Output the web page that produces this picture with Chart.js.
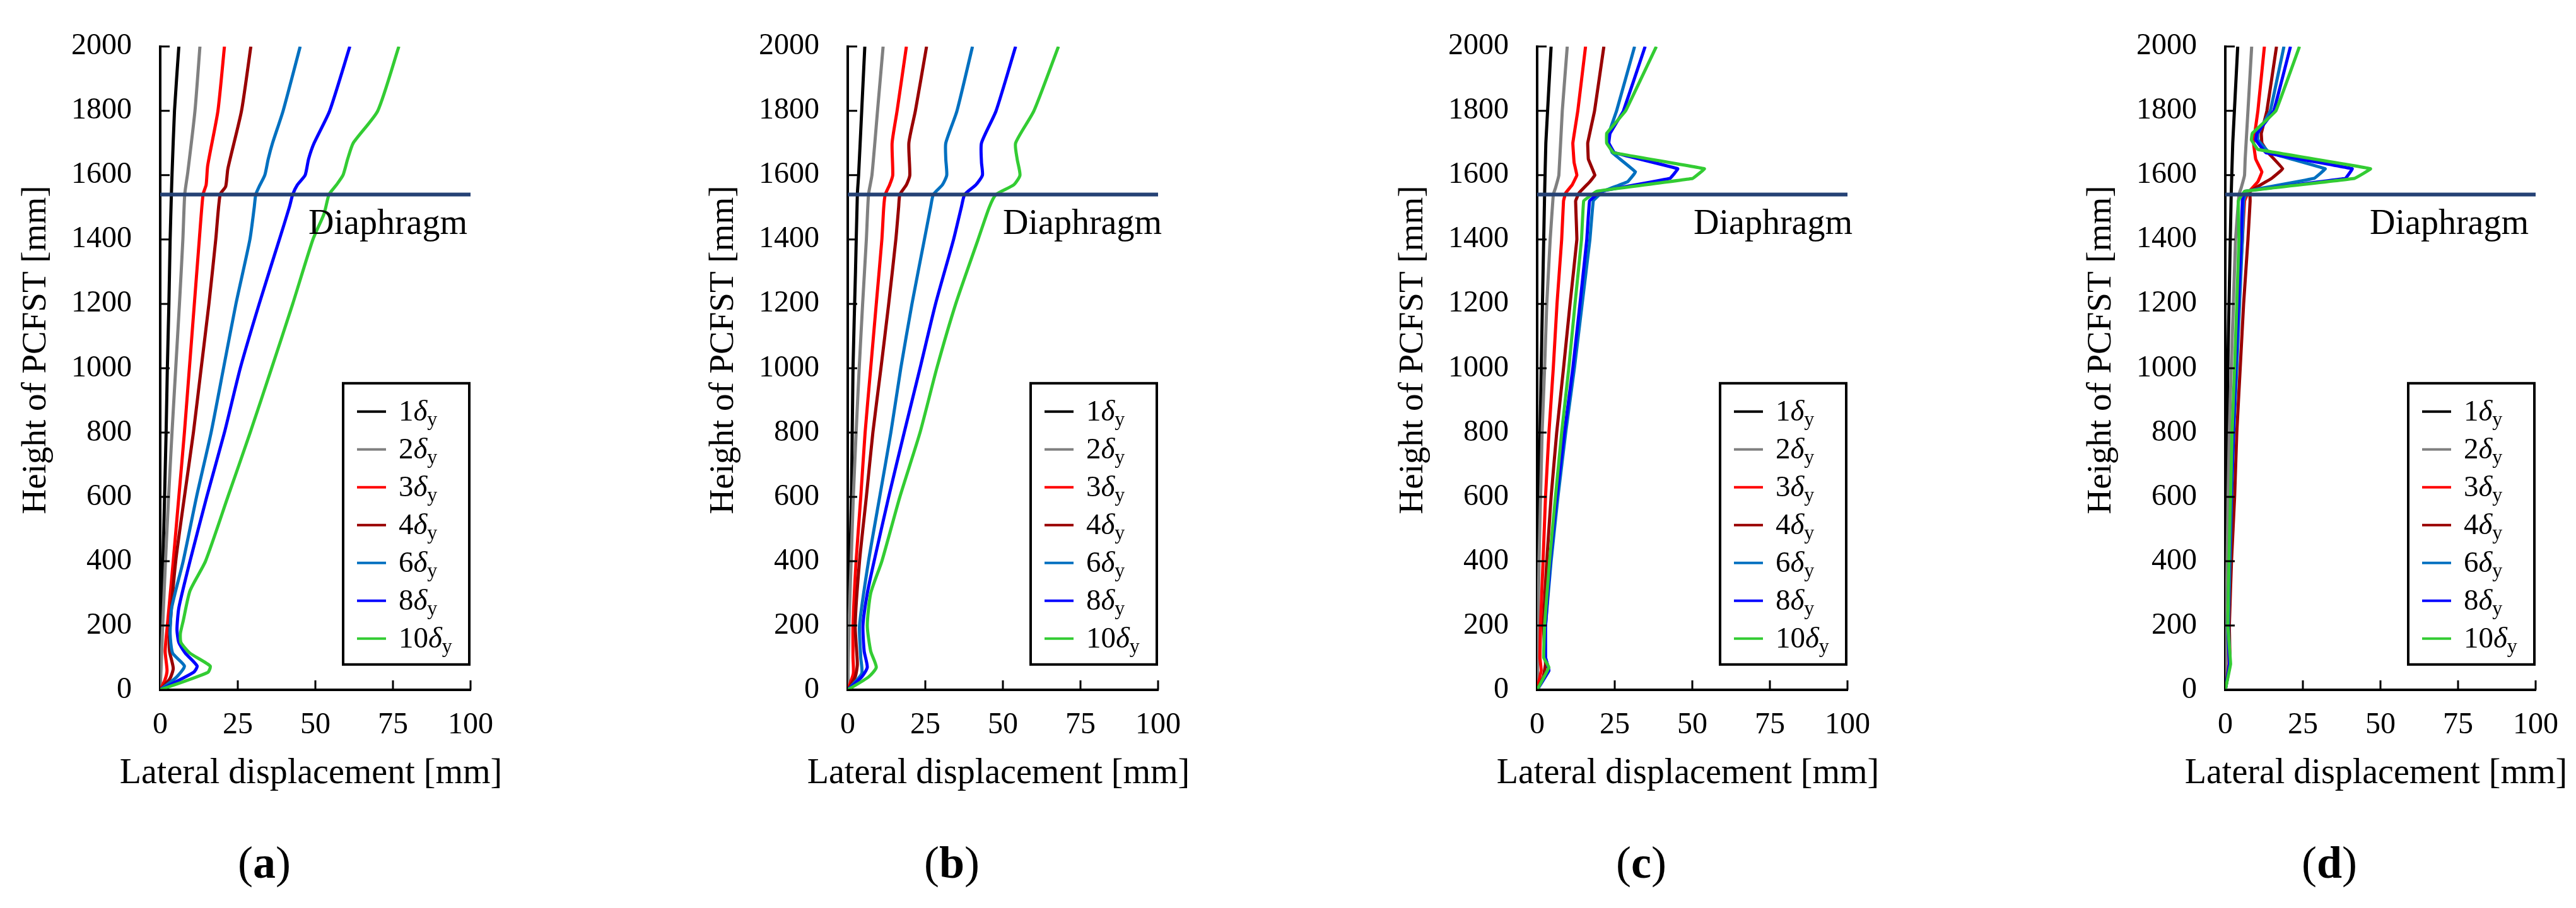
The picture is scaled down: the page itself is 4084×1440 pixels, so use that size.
<!DOCTYPE html>
<html>
<head>
<meta charset="utf-8">
<script src="https://cdn.jsdelivr.net/npm/chart.js@4"></script>
<style>
  body { margin: 0; background: #fff; width: 4084px; height: 1440px; overflow: hidden; position: relative; }
  .panel { position: absolute; top: 0; width: 810px; height: 1440px; }
</style>
</head>
<body>
<div class="panel" style="left:0px"><canvas id="chartA" width="810" height="1440"></canvas></div>
<div class="panel" style="left:1090px"><canvas id="chartB" width="810" height="1440"></canvas></div>
<div class="panel" style="left:2183px"><canvas id="chartC" width="810" height="1440"></canvas></div>
<div class="panel" style="left:3274px"><canvas id="chartD" width="810" height="1440"></canvas></div>
<script>
const seriesLabels = ['1', '2', '3', '4', '6', '8', '10'];
const seriesColors = ['#000000', '#808080', '#FF0000', '#990000', '#0070C0', '#0000FF', '#33CC33'];
const xTicks = [0, 25, 50, 75, 100];
const yTicks = [0, 200, 400, 600, 800, 1000, 1200, 1400, 1600, 1800, 2000];
const diaphragmHeight = 1540;
const panelLetters = ['a', 'b', 'c', 'd'];

// [lateral displacement mm, height mm]
const panelA = [
  [[0,0],[0.2,100],[0.4,200],[0.9,400],[1.4,600],[1.9,800],[2.3,1000],[2.8,1200],[3.2,1400],[3.6,1540],[3.8,1600],[4.6,1800],[6.0,2000]],
  [[0,0],[0.4,100],[0.8,200],[1.7,400],[2.7,600],[3.8,800],[5.0,1000],[6.2,1200],[7.3,1400],[7.9,1540],[8.9,1610],[11.2,1800],[12.8,2000]],
  [[0,0],[1.5,30],[2.2,60],[1.6,120],[2.3,200],[4.2,400],[6.0,600],[7.8,800],[9.4,1000],[11.0,1200],[12.6,1400],[13.8,1540],[14.8,1570],[15.3,1630],[18.6,1800],[20.7,2000]],
  [[0,0],[3.1,34],[4.2,67],[3.0,120],[3.0,174],[5.0,400],[7.8,600],[10.7,800],[13.2,1000],[15.7,1200],[17.9,1400],[19.3,1540],[21.1,1565],[21.8,1620],[26.2,1800],[29.2,2000]],
  [[0,0],[5.3,40],[7.8,74],[4.0,114],[3.2,174],[3.7,255],[7.4,400],[11.7,600],[16.4,800],[20.4,1000],[24.4,1200],[28.9,1400],[30.3,1500],[30.8,1540],[31.9,1565],[33.7,1600],[34.8,1650],[36.2,1700],[39.6,1800],[45.1,2000]],
  [[0,0],[10.7,54],[11.9,74],[8.1,114],[6.0,147],[5.4,188],[6.0,255],[9.6,400],[15.0,600],[20.7,800],[25.8,1000],[31.9,1200],[38.4,1400],[41.6,1500],[42.7,1540],[44.2,1570],[46.7,1600],[47.8,1650],[49.6,1700],[54.6,1800],[61.1,2000]],
  [[0,0],[15.3,54],[16.1,74],[9.6,114],[6.7,147],[6.5,175],[7.4,214],[9.6,308],[14.6,400],[21.8,600],[29.0,800],[35.9,1000],[42.7,1200],[49.2,1400],[52.8,1480],[54.4,1540],[56.8,1570],[58.9,1600],[60.4,1650],[62.2,1700],[70.1,1800],[76.9,2000]]
];

const panelB = [
  [[0,0],[0.2,200],[0.7,400],[1.2,600],[1.7,1000],[2.5,1300],[3.1,1540],[3.5,1600],[4.5,1800],[5.5,2000]],
  [[0,0],[0.4,200],[1.1,400],[1.8,600],[2.7,800],[3.7,1000],[4.8,1200],[6.0,1400],[6.7,1540],[7.8,1600],[9.6,1800],[11.4,2000]],
  [[0,0],[1.8,50],[1.7,100],[1.7,200],[2.7,400],[4.2,600],[5.6,800],[7.4,1000],[9.2,1200],[11.0,1400],[11.6,1500],[12.1,1540],[13.5,1570],[14.5,1600],[14.3,1700],[15.9,1800],[18.9,2000]],
  [[0,0],[2.4,40],[3.1,80],[2.4,200],[3.8,400],[6.0,600],[8.1,800],[10.7,1000],[13.2,1200],[15.5,1400],[16.4,1500],[16.8,1540],[18.9,1570],[20.0,1600],[19.7,1700],[21.8,1800],[25.4,2000]],
  [[0,0],[4.5,50],[4.2,100],[3.8,200],[6.7,400],[10.3,600],[13.9,800],[17.1,1000],[20.7,1200],[24.7,1400],[26.7,1500],[27.6,1540],[30.5,1570],[31.9,1600],[31.6,1650],[31.6,1700],[35.2,1800],[40.2,2000]],
  [[0,0],[4.5,40],[6.3,70],[5.3,120],[4.9,200],[6.3,300],[8.5,400],[13.2,600],[18.2,800],[23.3,1000],[28.3,1200],[34.1,1400],[36.6,1500],[37.7,1540],[41.3,1570],[43.4,1600],[43.1,1640],[43.1,1700],[47.8,1800],[54.1,2000]],
  [[0,0],[6.7,40],[9.2,70],[7.4,120],[6.3,200],[7.4,300],[11.0,400],[16.8,600],[23.3,800],[28.7,1000],[34.8,1200],[42.0,1400],[45.6,1500],[47.8,1540],[53.5,1570],[55.5,1600],[54.6,1650],[54.1,1700],[60.0,1800],[67.9,2000]]
];

const panelC = [
  [[0,0],[0.3,400],[1.3,1000],[2.4,1540],[2.8,1700],[4.5,2000]],
  [[0,0],[0.6,400],[1.1,600],[1.6,800],[2.4,1000],[3.1,1200],[4.2,1400],[5.2,1540],[5.9,1560],[7.0,1600],[8.1,1800],[9.7,2000]],
  [[0,0],[1.3,60],[0.9,100],[1.1,200],[1.9,400],[2.7,600],[3.8,800],[5.2,1000],[6.4,1200],[7.9,1400],[8.5,1520],[9.2,1545],[11.3,1570],[12.8,1600],[11.9,1640],[11.5,1700],[13.1,1800],[15.6,2000]],
  [[0,0],[2.0,40],[2.7,80],[2.0,200],[3.1,400],[4.5,600],[6.3,800],[8.5,1000],[10.6,1200],[12.8,1400],[12.4,1520],[13.5,1545],[17.0,1580],[18.6,1600],[16.5,1650],[16.3,1700],[18.5,1800],[21.5,2000]],
  [[0,0],[3.8,60],[2.7,100],[2.7,200],[4.5,400],[6.7,600],[9.2,800],[12.0,1000],[14.5,1200],[17.0,1400],[18.1,1520],[21.3,1550],[29.2,1580],[31.7,1610],[24.2,1670],[23.1,1700],[23.1,1730],[25.6,1800],[31.4,2000]],
  [[0,0],[3.8,60],[2.7,100],[2.7,200],[4.2,400],[6.3,600],[8.8,800],[11.5,1000],[13.8,1200],[16.0,1400],[16.9,1520],[20.6,1550],[42.8,1590],[45.3,1620],[24.9,1670],[23.1,1700],[23.5,1730],[27.8,1800],[34.8,2000]],
  [[0,0],[3.8,70],[2.1,100],[2.4,200],[4.0,400],[5.9,600],[7.9,800],[10.2,1000],[12.2,1200],[14.3,1400],[15.0,1520],[19.2,1550],[50.1,1590],[53.9,1620],[24.6,1670],[22.4,1700],[22.4,1730],[28.5,1800],[38.4,2000]]
];

const panelD = [
  [[0,0],[0.2,400],[0.8,1000],[1.9,1540],[2.4,1700],[4.0,2000]],
  [[0,0],[0.6,400],[0.9,600],[1.3,800],[1.9,1000],[2.6,1200],[3.3,1400],[4.4,1540],[5.1,1560],[6.2,1600],[6.4,1650],[7.3,1800],[8.5,2000]],
  [[0,0],[1.2,80],[1.0,200],[1.5,400],[2.0,600],[2.6,800],[3.3,1000],[4.2,1200],[5.5,1400],[6.2,1520],[7.3,1545],[10.5,1580],[11.8,1610],[9.8,1650],[9.1,1700],[10.5,1800],[12.6,2000]],
  [[0,0],[1.5,80],[1.3,200],[2.0,400],[3.0,600],[3.7,800],[4.8,1000],[5.9,1200],[7.3,1400],[8.0,1520],[8.0,1550],[14.9,1590],[18.5,1620],[13.8,1670],[11.8,1700],[11.6,1730],[13.4,1800],[16.5,2000]],
  [[0,0],[1.5,80],[1.0,200],[1.5,400],[2.0,600],[2.7,800],[3.7,1000],[4.6,1200],[5.5,1400],[5.9,1520],[6.9,1550],[28.6,1590],[32.2,1620],[14.2,1670],[10.5,1710],[10.5,1730],[14.5,1800],[18.9,2000]],
  [[0,0],[1.3,80],[0.8,200],[1.3,400],[1.9,600],[2.6,800],[3.3,1000],[4.2,1200],[5.1,1400],[5.5,1520],[6.2,1550],[38.7,1590],[40.9,1620],[13.1,1670],[9.8,1710],[10.2,1730],[15.6,1800],[21.0,2000]],
  [[0,0],[1.7,80],[0.8,200],[1.2,400],[1.7,600],[2.2,800],[3.0,1000],[3.7,1200],[4.4,1400],[4.2,1520],[6.2,1550],[41.6,1590],[46.8,1620],[10.5,1680],[8.4,1710],[8.7,1730],[16.3,1800],[23.9,2000]]
];

const FONT = '"Liberation Serif", serif';

// inward ticks, axis titles, legend box, diaphragm label and panel letter
const overlay = {
  id: 'overlay',
  afterDraw(chart, args, opts) {
    const ctx = chart.ctx;
    const area = chart.chartArea;
    const xs = chart.scales.x, ys = chart.scales.y;
    ctx.save();
    ctx.strokeStyle = '#000';
    ctx.lineWidth = 3;
    ctx.beginPath();
    yTicks.forEach(v => {
      const py = ys.getPixelForValue(v);
      ctx.moveTo(area.left, py);
      ctx.lineTo(area.left + 15, py);
    });
    xTicks.slice(1).forEach(v => {
      const px = xs.getPixelForValue(v);
      ctx.moveTo(px, area.bottom);
      ctx.lineTo(px, area.bottom - 15);
    });
    ctx.stroke();

    ctx.fillStyle = '#000';
    ctx.textBaseline = 'alphabetic';

    // axis titles
    ctx.font = '56px ' + FONT;
    ctx.textAlign = 'center';
    ctx.fillText('Lateral displacement [mm]', area.left + 239, area.bottom + 148);
    ctx.save();
    ctx.translate(area.left - 182, 555);
    ctx.rotate(-Math.PI / 2);
    ctx.font = '55px ' + FONT;
    ctx.fillText('Height of PCFST [mm]', 0, 0);
    ctx.restore();

    // Diaphragm label
    ctx.font = '56px ' + FONT;
    ctx.textAlign = 'right';
    ctx.fillText('Diaphragm', area.left + opts.labelRight, ys.getPixelForValue(diaphragmHeight) + 63);

    // legend
    const bx = area.left + 290, by = area.top + 534;
    ctx.strokeStyle = '#000';
    ctx.lineWidth = 4;
    ctx.strokeRect(bx, by, 200, 446);
    ctx.textAlign = 'left';
    seriesLabels.forEach((lab, i) => {
      const ly = by + 45 + i * 60;
      ctx.strokeStyle = seriesColors[i];
      ctx.lineWidth = 4;
      ctx.beginPath();
      ctx.moveTo(bx + 22, ly);
      ctx.lineTo(bx + 68, ly);
      ctx.stroke();
      let tx = bx + 88;
      const base = ly + 14;
      ctx.font = '47px ' + FONT;
      ctx.fillText(lab, tx, base);
      tx += ctx.measureText(lab).width;
      ctx.font = 'italic 47px ' + FONT;
      ctx.fillText('δ', tx, base);
      tx += ctx.measureText('δ').width;
      ctx.font = '32px ' + FONT;
      ctx.fillText('y', tx, base + 8);
    });

    // panel letter
    const cx = area.left + 165, cy = 1392;
    ctx.font = '72px ' + FONT;
    const wp = ctx.measureText('(').width;
    ctx.font = 'bold 72px ' + FONT;
    const wl = ctx.measureText(opts.letter).width;
    const lx = cx - (2 * wp + wl) / 2;
    ctx.font = '72px ' + FONT;
    ctx.fillText('(', lx, cy);
    ctx.font = 'bold 72px ' + FONT;
    ctx.fillText(opts.letter, lx + wp, cy);
    ctx.font = '72px ' + FONT;
    ctx.fillText(')', lx + wp + wl, cy);
    ctx.restore();
  }
};

function buildDatasets(panel, tension) {
  const ds = panel.map((pts, i) => ({
    label: seriesLabels[i] + 'δy',
    data: pts.map(p => ({ x: p[0], y: p[1] })),
    borderColor: seriesColors[i],
    borderWidth: 5,
    pointRadius: 0,
    showLine: true,
    fill: false,
    tension: tension,
    order: 10 - i
  }));
  ds.push({
    label: 'Diaphragm',
    data: [{ x: 0, y: diaphragmHeight }, { x: 100, y: diaphragmHeight }],
    borderColor: '#254275',
    borderWidth: 6,
    pointRadius: 0,
    showLine: true,
    order: -1
  });
  return ds;
}

function makeChart(id, panel, letter, labelRight, tension) {
  new Chart(document.getElementById(id), {
    type: 'scatter',
    data: { datasets: buildDatasets(panel, tension) },
    options: {
      responsive: false,
      animation: false,
      devicePixelRatio: 1,
      layout: { autoPadding: false, padding: { top: 45, left: 0, right: 56, bottom: 180 } },
      scales: {
        x: {
          type: 'linear', min: 0, max: 100,
          afterBuildTicks: s => { s.ticks = xTicks.map(v => ({ value: v })); },
          afterFit: s => { s.height = 166; },
          grid: { drawOnChartArea: false, drawTicks: false },
          border: { display: true, color: '#000', width: 4 },
          ticks: { color: '#000', padding: 28, font: { family: FONT, size: 48 }, callback: v => String(v) }
        },
        y: {
          type: 'linear', min: 0, max: 2000,
          afterBuildTicks: s => { s.ticks = yTicks.map(v => ({ value: v })); },
          afterFit: s => { s.width = 254; },
          grid: { drawOnChartArea: false, drawTicks: false },
          border: { display: true, color: '#000', width: 4 },
          ticks: { color: '#000', padding: 45, font: { family: FONT, size: 48 }, callback: v => String(v) }
        }
      },
      plugins: {
        legend: { display: false },
        tooltip: { enabled: false },
        overlay: { letter: letter, labelRight: labelRight }
      }
    },
    plugins: [overlay]
  });
}

function drawAll() {
  makeChart('chartA', panelA, panelLetters[0], 487, 0.2);
  makeChart('chartB', panelB, panelLetters[1], 498, 0.2);
  makeChart('chartC', panelC, panelLetters[2], 500, 0.05);
  makeChart('chartD', panelD, panelLetters[3], 481, 0.05);
}

Promise.all([
  document.fonts.load('48px "Liberation Serif"'),
  document.fonts.load('bold 72px "Liberation Serif"'),
  document.fonts.load('italic 47px "Liberation Serif"')
]).then(drawAll, drawAll);
</script>
</body>
</html>
